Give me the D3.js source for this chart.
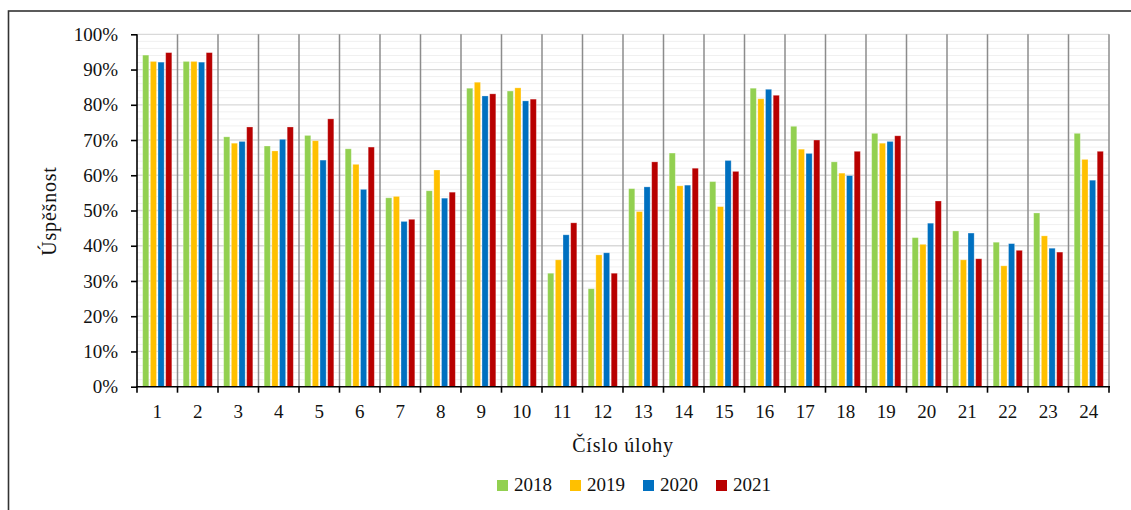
<!DOCTYPE html>
<html lang="cs">
<head>
  <meta charset="UTF-8">
  <script type="text/javascript" src="https://cdn.jsdelivr.net/npm/d3@7/dist/d3.min.js"></script>
  <title>Úspěšnost úloh</title>
  <style>
    body { margin: 0; background: #fff; }
    svg { display: block; font-family: "Liberation Serif", "DejaVu Serif", serif; }
    .axis path, .axis line { stroke: #000; stroke-width: 1.6; }
    .axis text { font-size: 19px; fill: #111; font-family: "Liberation Serif", serif; }
    .title { font-size: 20px; fill: #111; letter-spacing: 0.8px; }
  </style>
</head>
<body>
<div id="chart"></div>
<script>
  // data (percent)
  var tasks = d3.range(1, 25).map(String);
  var years = ["2018", "2019", "2020", "2021"];
  var colors = ["#92d050", "#ffc000", "#0070c0", "#b80000"];

  var v2018 = [94.1, 92.3, 70.9, 68.3, 71.3, 67.5, 53.6, 55.6, 84.7, 83.9, 32.2, 27.8,
               56.2, 66.3, 58.2, 84.7, 73.9, 63.8, 71.9, 42.3, 44.2, 41.0, 49.3, 71.9];
  var v2019 = [92.3, 92.3, 69.1, 66.9, 69.8, 63.1, 54.0, 61.5, 86.4, 84.8, 36.0, 37.4,
               49.7, 57.0, 51.1, 81.7, 67.4, 60.6, 69.1, 40.4, 36.0, 34.3, 42.8, 64.5];
  var v2020 = [92.1, 92.1, 69.6, 70.2, 64.3, 56.0, 46.9, 53.5, 82.5, 81.1, 43.1, 38.0,
               56.7, 57.2, 64.2, 84.4, 66.2, 59.9, 69.6, 46.4, 43.6, 40.6, 39.3, 58.6];
  var v2021 = [94.8, 94.8, 73.7, 73.7, 76.0, 68.0, 47.5, 55.2, 83.1, 81.6, 46.5, 32.2,
               63.8, 62.0, 61.1, 82.7, 70.0, 66.8, 71.2, 52.7, 36.3, 38.7, 38.2, 66.8];
  var series = [v2018, v2019, v2020, v2021];

  var W = 1131, H = 510;
  var pLeft = 137, pRight = 1109, pTop = 34.3, pBottom = 386.7;

  var svg = d3.select("#chart").append("svg")
    .attr("width", W).attr("height", H);

  // outer frame
  svg.append("rect")
    .attr("x", 8.5).attr("y", 11)
    .attr("width", W).attr("height", H)
    .attr("fill", "none").attr("stroke", "#333").attr("stroke-width", 1.6);

  var x0 = d3.scaleBand().domain(tasks).range([pLeft, pRight]);
  var x1 = d3.scaleBand().domain(years)
    .range([x0.bandwidth() * 0.14, x0.bandwidth() * 0.86])
    .paddingInner(0.2);
  var y = d3.scaleLinear().domain([0, 100]).range([pBottom, pTop]);

  // minor + major horizontal grid
  svg.append("g").selectAll("line")
    .data(d3.range(2, 101, 2))
    .enter().append("line")
    .attr("x1", pLeft).attr("x2", pRight)
    .attr("y1", function(d) { return y(d); })
    .attr("y2", function(d) { return y(d); })
    .attr("stroke", function(d) { return d % 10 === 0 ? "#d9d9d9" : "#f0f0f0"; })
    .attr("stroke-width", function(d) { return d % 10 === 0 ? 1.3 : 1; });

  // vertical separators between tasks
  svg.append("g").selectAll("line")
    .data(tasks.slice(1).concat(["end"]))
    .enter().append("line")
    .attr("x1", function(d) { return d === "end" ? pRight : x0(d); })
    .attr("x2", function(d) { return d === "end" ? pRight : x0(d); })
    .attr("y1", pTop).attr("y2", pBottom)
    .attr("stroke", "#8c8c8c").attr("stroke-width", 1.5);

  // bars
  var groups = svg.append("g").selectAll("g")
    .data(tasks)
    .enter().append("g")
    .attr("transform", function(d) { return "translate(" + x0(d) + ",0)"; });

  groups.selectAll("rect")
    .data(function(d, i) {
      return years.map(function(yr, j) { return { year: yr, value: series[j][i], c: colors[j] }; });
    })
    .enter().append("rect")
    .attr("x", function(d) { return x1(d.year); })
    .attr("width", x1.bandwidth())
    .attr("y", function(d) { return y(d.value); })
    .attr("height", function(d) { return pBottom - y(d.value); })
    .attr("fill", function(d) { return d.c; })
    .attr("stroke", "rgba(255,255,255,0.35)")
    .attr("stroke-width", 0.8);

  // y axis
  svg.append("g")
    .attr("class", "axis")
    .attr("transform", "translate(" + pLeft + ",0)")
    .call(d3.axisLeft(y).tickValues(d3.range(0, 101, 10))
      .tickFormat(function(d) { return d + "%"; })
      .tickSize(6).tickPadding(13).tickSizeOuter(0))
    .call(function(g) { g.select(".domain").attr("d", "M0," + pTop + "V" + pBottom); });

  // x axis, ticks on task boundaries
  var xAxis = svg.append("g")
    .attr("class", "axis")
    .attr("transform", "translate(0," + pBottom + ")");
  xAxis.append("line")
    .attr("x1", pLeft - 1).attr("x2", pRight + 1);
  xAxis.selectAll(".bt")
    .data(tasks.concat(["end"]))
    .enter().append("line")
    .attr("class", "bt")
    .attr("x1", function(d) { return d === "end" ? pRight : x0(d); })
    .attr("x2", function(d) { return d === "end" ? pRight : x0(d); })
    .attr("y1", 0).attr("y2", 6);
  xAxis.selectAll("text")
    .data(tasks)
    .enter().append("text")
    .attr("x", function(d) { return x0(d) + x0.bandwidth() / 2; })
    .attr("y", 31)
    .attr("text-anchor", "middle")
    .text(function(d) { return d; });

  // axis titles
  svg.append("text")
    .attr("class", "title")
    .attr("x", 623).attr("y", 452)
    .attr("text-anchor", "middle")
    .text("Číslo úlohy");

  svg.append("text")
    .attr("class", "title")
    .attr("transform", "rotate(-90)")
    .attr("x", -211).attr("y", 56)
    .attr("text-anchor", "middle")
    .text("Úspěšnost");

  // legend
  var legend = svg.append("g").selectAll("g")
    .data(years)
    .enter().append("g")
    .attr("transform", function(d, i) { return "translate(" + (497 + i * 73) + ",480)"; });
  legend.append("rect")
    .attr("width", 11).attr("height", 11)
    .attr("fill", function(d, i) { return colors[i]; });
  legend.append("text")
    .attr("x", 17).attr("y", 10.5)
    .style("font-size", "19px").attr("fill", "#111")
    .text(function(d) { return d; });
</script>
</body>
</html>
